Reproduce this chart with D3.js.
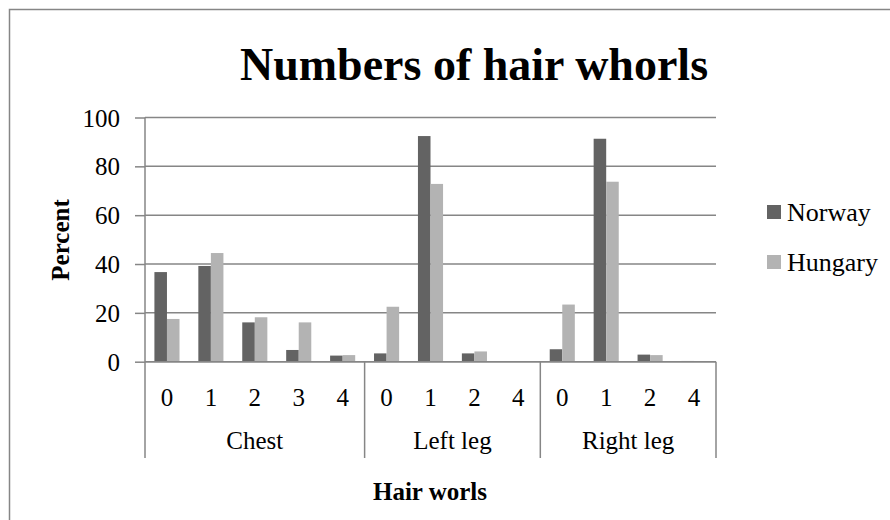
<!DOCTYPE html>
<html>
<head>
<meta charset="utf-8">
<script src="https://cdn.jsdelivr.net/npm/d3@7"></script>
<style>
  body { margin: 0; background: #fff; }
  svg text { font-family: "Liberation Serif", "Times New Roman", serif; fill: #000; }
</style>
</head>
<body>
<svg id="chart" width="890" height="520"></svg>
<script>

// hair whorl counts per body part
var groups = ["Chest", "Left leg", "Right leg"];
var whorls = [["0", "1", "2", "3", "4"], ["0", "1", "2", "4"], ["0", "1", "2", "4"]];
var seriesNames = ["Norway", "Hungary"];
var norway = [36.7, 39.2, 16.1, 4.8, 2.5, 3.4, 92.4, 3.4, 0, 5.1, 91.3, 2.9, 0.3];
var hungary = [17.5, 44.5, 18.2, 16.1, 2.7, 22.5, 72.8, 4.2, 0, 23.4, 73.7, 2.7, 0.1];
var yTicks = [0, 20, 40, 60, 80, 100];

var colors = { Norway: "#636363", Hungary: "#b3b3b3" };
var axisColor = "#868686";

var svg = d3.select("#chart");

// flat list of categories: one per (group, whorl count)
var cats = [];
groups.forEach(function(g, gi) {
	whorls[gi].forEach(function(w) {
		cats.push({ key: g + "|" + w, group: g, label: w });
	});
});

var plot = { left: 145, right: 716, top: 117.5, bottom: 361.7, labelBottom: 458 };

var x = d3.scaleBand()
		.domain(cats.map(function(d) { return d.key; }))
		.range([plot.left, plot.right])
		.padding(0);

var xs = d3.scaleBand()
		.domain(seriesNames)
		.range([0, x.bandwidth()])
		.paddingInner(0)
		.paddingOuter(0.75);

var y = d3.scaleLinear()
		.domain([0, 100])
		.range([plot.bottom, plot.top]);

// outer chart border
svg.append("rect")
	.attr("x", 9.5)
	.attr("y", 9.5)
	.attr("width", 900)
	.attr("height", 530)
	.attr("fill", "none")
	.attr("stroke", axisColor)
	.attr("stroke-width", 1.5);

// title
svg.append("text")
	.attr("x", 474)
	.attr("y", 80)
	.attr("text-anchor", "middle")
	.style("font-size", "46px")
	.style("font-weight", "bold")
	.text("Numbers of hair whorls");

// gridlines
svg.append("g")
	.selectAll("line")
	.data(yTicks)
	.enter().append("line")
	.attr("x1", plot.left)
	.attr("x2", plot.right)
	.attr("y1", function(d) { return y(d); })
	.attr("y2", function(d) { return y(d); })
	.attr("stroke", axisColor)
	.attr("stroke-width", 1.5);

// y axis
var yAxis = svg.append("g")
	.attr("transform", "translate(" + plot.left + ",0)")
	.call(d3.axisLeft(y).tickValues(yTicks).tickSize(10).tickPadding(15));

yAxis.select(".domain").remove();
yAxis.selectAll(".tick line").attr("stroke", axisColor).attr("stroke-width", 1.5);
yAxis.selectAll(".tick text")
	.style("font-size", "25px")
	.style("font-family", "'Liberation Serif', 'Times New Roman', serif")
	.attr("fill", "#000")
	.attr("dy", "0.34em");

svg.append("line")
	.attr("x1", plot.left).attr("x2", plot.left)
	.attr("y1", plot.top).attr("y2", plot.labelBottom)
	.attr("stroke", axisColor)
	.attr("stroke-width", 1.5);

// bars
var bars = svg.append("g");
seriesNames.forEach(function(s, si) {
	var vals = si === 0 ? norway : hungary;
	bars.selectAll(".bar-" + s)
		.data(cats)
		.enter().append("rect")
		.attr("class", "bar-" + s)
		.attr("x", function(d) { return x(d.key) + xs(s); })
		.attr("width", xs.bandwidth())
		.attr("y", function(d, i) { return y(vals[i]); })
		.attr("height", function(d, i) { return y(0) - y(vals[i]); })
		.attr("fill", colors[s]);
});

// x axis base line
svg.append("line")
	.attr("x1", plot.left).attr("x2", plot.right)
	.attr("y1", y(0)).attr("y2", y(0))
	.attr("stroke", axisColor)
	.attr("stroke-width", 1.5);

// whorl count labels
svg.append("g")
	.selectAll("text")
	.data(cats)
	.enter().append("text")
	.attr("x", function(d) { return x(d.key) + x.bandwidth() / 2; })
	.attr("y", 406)
	.attr("text-anchor", "middle")
	.style("font-size", "25px")
	.text(function(d) { return d.label; });

// group labels and dividers
var groupInfo = groups.map(function(g, gi) {
	var keys = whorls[gi].map(function(w) { return g + "|" + w; });
	var x0 = x(keys[0]);
	var x1 = x(keys[keys.length - 1]) + x.bandwidth();
	return { name: g, x0: x0, x1: x1 };
});

svg.append("g")
	.selectAll("line")
	.data(groupInfo)
	.enter().append("line")
	.attr("x1", function(d) { return d.x1; })
	.attr("x2", function(d) { return d.x1; })
	.attr("y1", y(0))
	.attr("y2", plot.labelBottom)
	.attr("stroke", axisColor)
	.attr("stroke-width", 1.5);

svg.append("g")
	.selectAll("text")
	.data(groupInfo)
	.enter().append("text")
	.attr("x", function(d) { return (d.x0 + d.x1) / 2; })
	.attr("y", 449)
	.attr("text-anchor", "middle")
	.style("font-size", "25px")
	.text(function(d) { return d.name; });

// axis titles
svg.append("text")
	.attr("x", 430)
	.attr("y", 500)
	.attr("text-anchor", "middle")
	.style("font-size", "25px")
	.style("font-weight", "bold")
	.text("Hair worls");

svg.append("text")
	.attr("transform", "translate(69,240) rotate(-90)")
	.attr("text-anchor", "middle")
	.style("font-size", "25px")
	.style("font-weight", "bold")
	.text("Percent");

// legend
var legend = svg.append("g")
	.selectAll("g")
	.data(seriesNames)
	.enter().append("g")
	.attr("transform", function(d, i) { return "translate(767," + (205 + i * 50) + ")"; });

legend.append("rect")
	.attr("width", 14)
	.attr("height", 14)
	.attr("fill", function(d) { return colors[d]; });

legend.append("text")
	.attr("x", 20)
	.attr("y", 16)
	.style("font-size", "26px")
	.text(function(d) { return d; });

</script>
</body>
</html>
